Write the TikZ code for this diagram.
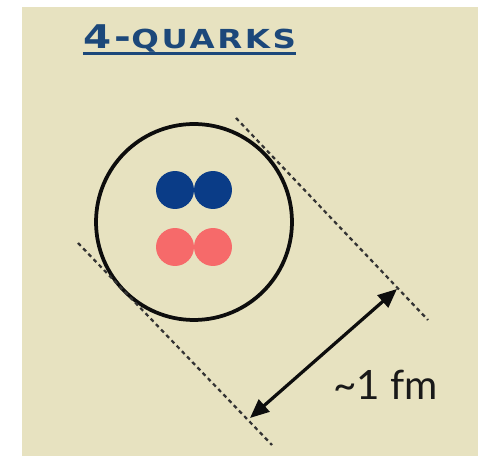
\documentclass[tikz,border=0pt]{standalone}
\usepackage{fontspec}
\usepackage{tikz}
\usetikzlibrary{arrows.meta}

\newfontfamily\titlefont{DejaVu Sans}[LetterSpace=8]
\newfontfamily\labelfont{Lato}

\definecolor{paper}{RGB}{231,226,192}
\definecolor{titleblue}{RGB}{28,72,122}
\definecolor{quarkblue}{RGB}{10,60,135}
\definecolor{quarkred}{RGB}{246,106,106}

\begin{document}
\begin{tikzpicture}[
  x=0.02cm,
  y=-0.02cm,
  >={Triangle[length=0.38cm,width=0.32cm]},
  quark/.style={circle, inner sep=0pt, minimum size=0.76cm},
  bag/.style={draw=black!95, circle, line width=0.075cm, inner sep=0pt,
    minimum size=3.92cm},
  guide/.style={draw=black!80, line width=0.045cm,
    dash pattern=on 0.08cm off 0.07cm},
  span/.style={<->, draw=black!95, line width=0.065cm},
  heading/.style={anchor=base west, inner sep=0pt, text=titleblue,
    font=\titlefont\bfseries},
  tag/.style={anchor=base west, inner sep=0pt, text=black!90,
    font=\labelfont\fontsize{23}{23}\selectfont}
]

\useasboundingbox (0,0) rectangle (485,456);
\fill[paper] (22,7) rectangle (478,456);

% title
\node[heading] (title) at (83,49)
  {\scalebox{1.3}[1.05]{\fontsize{17.7}{17.7}\selectfont 4-\fontsize{14.2}{14.2}\selectfont QUARKS}};
\draw[titleblue, line width=0.045cm]
  ([yshift=-0.09cm]title.base west) -- ([yshift=-0.09cm]title.base east);

% hadron with two quarks and two antiquarks
\node[bag] (hadron) at (194,222) {};
\node[quark, fill=quarkblue] (q1) at (175,190) {};
\node[quark, fill=quarkblue] (q2) at (213,190) {};
\node[quark, fill=quarkred] (qbar1) at (175,247) {};
\node[quark, fill=quarkred] (qbar2) at (213,247) {};

% tangent lines and size
\coordinate (upA) at (236,118);
\coordinate (upB) at (428,320);
\coordinate (lowA) at (78,243);
\coordinate (lowB) at (272,445);
\coordinate (spanA) at (250,418);
\coordinate (spanB) at (397,289);

\draw[guide] (upA) -- (upB);
\draw[guide] (lowA) -- (lowB);
\draw[span] (spanA) -- (spanB);

\node[tag] (size) at (333,400) {\textasciitilde 1 fm};

\end{tikzpicture}
\end{document}
